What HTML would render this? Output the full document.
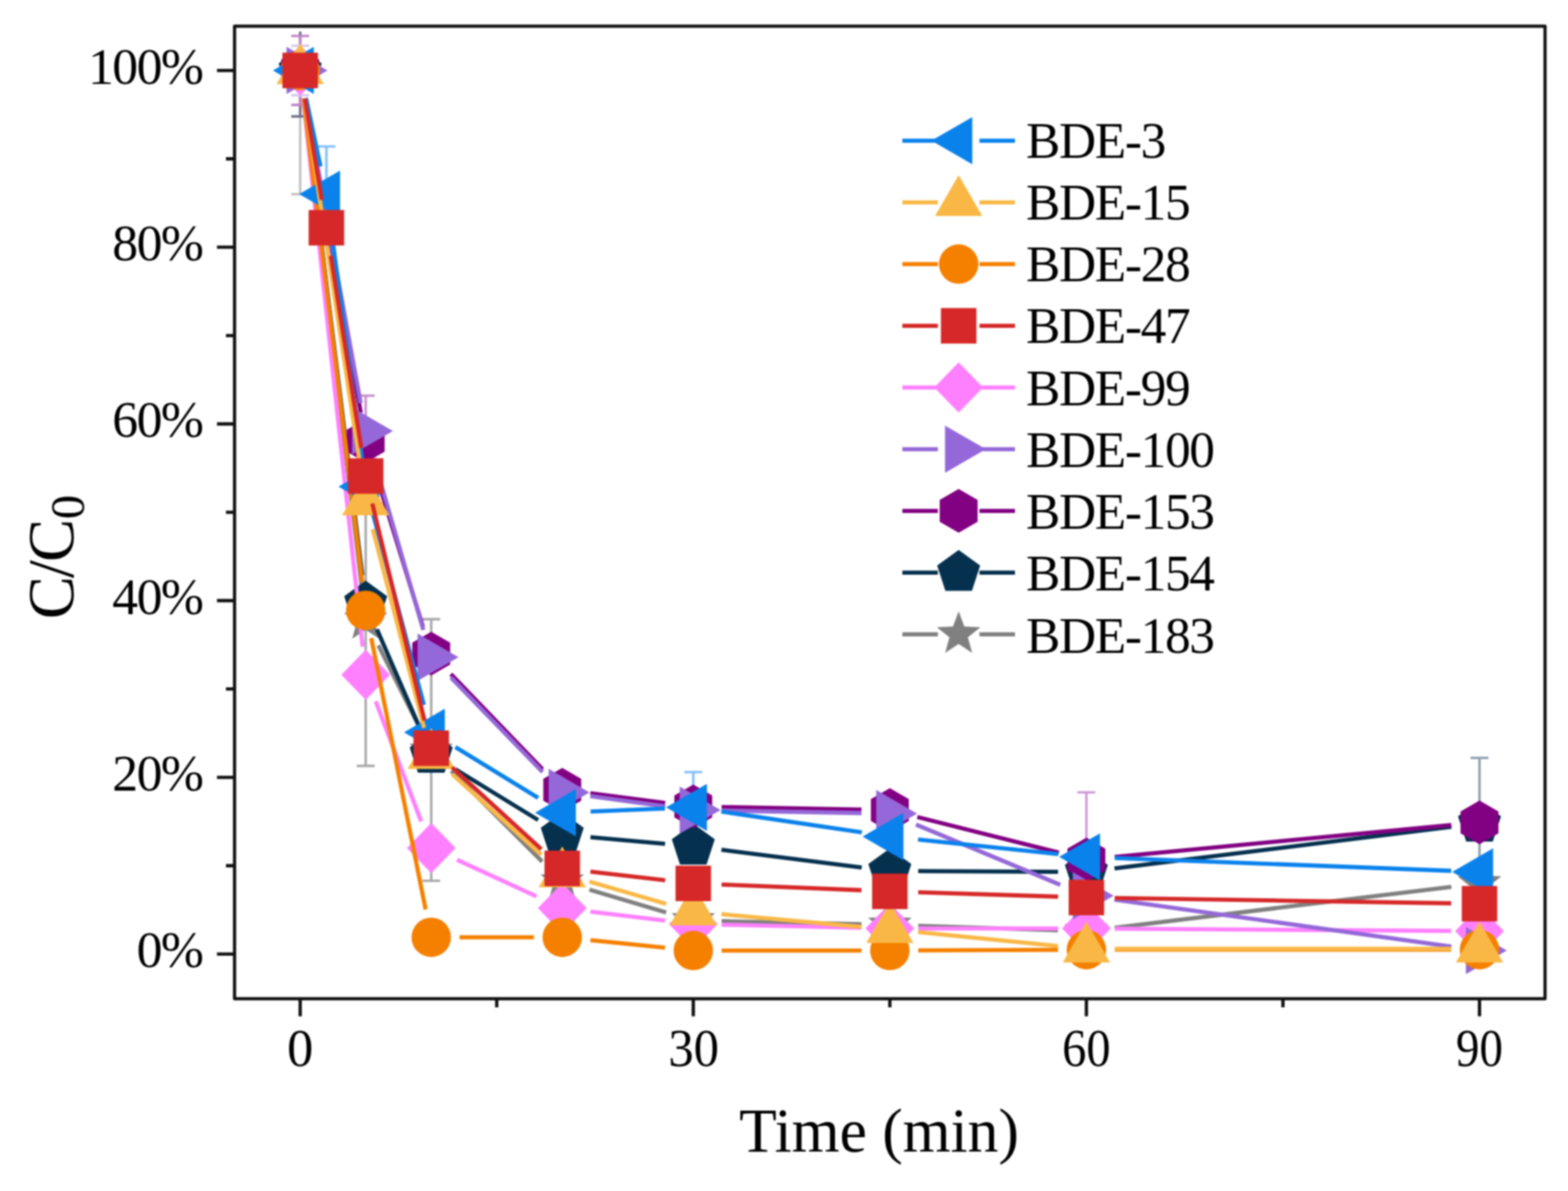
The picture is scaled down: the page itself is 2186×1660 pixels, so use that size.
<!DOCTYPE html><html><head><meta charset="utf-8"><title>C/C0 vs time</title><style>html,body{margin:0;padding:0;background:#fff;overflow:hidden;}svg{display:block;}text{font-family:"Liberation Serif","Times New Roman",serif;fill:#000;}</style></head><body>
<svg width="2186" height="1660" viewBox="0 0 2186 1660">
<rect width="2186" height="1660" fill="#fff"/>
<defs><filter id="bl" x="0" y="0" width="2186" height="1660" filterUnits="userSpaceOnUse" color-interpolation-filters="sRGB"><feGaussianBlur stdDeviation="0.85"/></filter><clipPath id="pc"><rect x="327" y="36.4" width="1827" height="1355.6"/></clipPath></defs>
<g filter="url(#bl)">
<rect width="2186" height="1660" fill="#fff"/>
<g clip-path="url(#pc)">
<path d="M418.5 44.01V270.62M406 270.62H431" stroke="#c0c0c0" stroke-width="3.4" fill="none"/>
<path d="M418.5 44.01V162.24M406 162.24H431" stroke="#6a7088" stroke-width="3.4" fill="none"/>
<path d="M418.5 50.17V146.23M406 50.17H431M406 146.23H431" stroke="#c080c8" stroke-width="3.4" fill="none"/>
<path d="M418.5 63.72V132.68M406 63.72H431M406 132.68H431" stroke="#d6cbf0" stroke-width="3.4" fill="none"/>
<path d="M455.04 204.12V337.13M442.54 204.12H467.54M442.54 337.13H467.54" stroke="#80c0ff" stroke-width="3.4" fill="none"/>
<path d="M509.84 551.43V677.05M497.34 551.43H522.34M497.34 677.05H522.34" stroke="#c890cc" stroke-width="3.4" fill="none"/>
<path d="M509.84 661.04V1067.47M497.34 661.04H522.34M497.34 1067.47H522.34" stroke="#a8a8a8" stroke-width="3.4" fill="none"/>
<path d="M601.18 863.02V1227.58M588.68 863.02H613.68M588.68 1227.58H613.68" stroke="#a8a8a8" stroke-width="3.4" fill="none"/>
<path d="M966.54 1076.09V1174.62M954.04 1076.09H979.04M954.04 1174.62H979.04" stroke="#80c0ff" stroke-width="3.4" fill="none"/>
<path d="M1514.58 1104.42V1291.62M1502.08 1104.42H1527.08M1502.08 1291.62H1527.08" stroke="#cc99d6" stroke-width="3.4" fill="none"/>
<path d="M2062.62 1056.38V1238.66M2050.12 1056.38H2075.12M2050.12 1238.66H2075.12" stroke="#8c9fb0" stroke-width="3.4" fill="none"/>
<path d="M423.18 137.42L505.16 825.03M527.54 899.57L583.48 1011.22M629.14 1074.43L755.9 1200.91M821.73 1240.04L928.67 1271.77M1006.03 1283.89L1201.07 1288.27M1280.04 1290.4L1475.1 1296.54M1553.79 1293.02L2023.41 1236.03" stroke="#808080" stroke-width="5.8" fill="none"/>
<polygon points="418.5,66.2 426.44,87.28 448.93,88.31 431.34,102.37 437.31,124.09 418.5,111.7 399.69,124.09 405.66,102.37 388.07,88.31 410.56,87.28" fill="#808080"/>
<polygon points="509.84,832.26 517.78,853.33 540.27,854.37 522.68,868.43 528.65,890.14 509.84,877.76 491.03,890.14 497,868.43 479.41,854.37 501.9,853.33" fill="#808080"/>
<polygon points="601.18,1014.53 609.12,1035.61 631.61,1036.64 614.02,1050.7 619.99,1072.42 601.18,1060.03 582.37,1072.42 588.34,1050.7 570.75,1036.64 593.24,1035.61" fill="#808080"/>
<polygon points="783.86,1196.81 791.8,1217.89 814.29,1218.92 796.7,1232.98 802.67,1254.7 783.86,1242.31 765.05,1254.7 771.02,1232.98 753.43,1218.92 775.92,1217.89" fill="#808080"/>
<polygon points="966.54,1251 974.48,1272.08 996.97,1273.11 979.38,1287.17 985.35,1308.89 966.54,1296.5 947.73,1308.89 953.7,1287.17 936.11,1273.11 958.6,1272.08" fill="#808080"/>
<polygon points="1240.56,1257.16 1248.5,1278.24 1270.99,1279.27 1253.4,1293.33 1259.37,1315.05 1240.56,1302.66 1221.75,1315.05 1227.72,1293.33 1210.13,1279.27 1232.62,1278.24" fill="#808080"/>
<polygon points="1514.58,1265.78 1522.52,1286.86 1545.01,1287.89 1527.42,1301.95 1533.39,1323.67 1514.58,1311.28 1495.77,1323.67 1501.74,1301.95 1484.15,1287.89 1506.64,1286.86" fill="#808080"/>
<polygon points="2062.62,1199.27 2070.56,1220.35 2093.05,1221.38 2075.46,1235.44 2081.43,1257.16 2062.62,1244.77 2043.81,1257.16 2049.78,1235.44 2032.19,1221.38 2054.68,1220.35" fill="#808080"/>
<path d="M423.32 137.4L505.02 801.65M525.56 877.09L585.46 1015.22M634.85 1072.11L750.19 1142.88M823.21 1166.98L927.19 1176.1M1005.73 1184.48L1201.37 1209.1M1280.06 1214.21L1475.08 1215.08M1553.78 1210.42L2023.42 1152.37" stroke="#05304e" stroke-width="5.8" fill="none"/>
<polygon points="418.5,66.7 448.46,88.47 437.02,123.68 399.98,123.68 388.54,88.47" fill="#05304e"/>
<polygon points="509.84,809.35 539.8,831.12 528.36,866.34 491.32,866.34 479.88,831.12" fill="#05304e"/>
<polygon points="601.18,1019.96 631.14,1041.72 619.7,1076.94 582.66,1076.94 571.22,1041.72" fill="#05304e"/>
<polygon points="783.86,1132.03 813.82,1153.8 802.38,1189.02 765.34,1189.02 753.9,1153.8" fill="#05304e"/>
<polygon points="966.54,1148.04 996.5,1169.81 985.06,1205.03 948.02,1205.03 936.58,1169.81" fill="#05304e"/>
<polygon points="1240.56,1182.53 1270.52,1204.3 1259.08,1239.51 1222.04,1239.51 1210.6,1204.3" fill="#05304e"/>
<polygon points="1514.58,1183.76 1544.54,1205.53 1533.1,1240.75 1496.06,1240.75 1484.62,1205.53" fill="#05304e"/>
<polygon points="2062.62,1116.02 2092.58,1137.79 2081.14,1173.01 2044.1,1173.01 2032.66,1137.79" fill="#05304e"/>
<path d="M425.38 137.1L502.96 575.34M521.46 651.99L589.56 873.3M628.58 939.51L756.46 1072.27M823.04 1105.74L927.36 1119.1M1006.03 1124.83L1201.07 1128.34M1278.87 1138.69L1476.27 1188.38M1553.91 1194.31L2023.29 1150" stroke="#820082" stroke-width="5.8" fill="none"/>
<polygon points="418.5,67.7 444.91,82.95 444.91,113.45 418.5,128.7 392.09,113.45 392.09,82.95" fill="#820082"/>
<polygon points="509.84,583.74 536.25,598.99 536.25,629.49 509.84,644.74 483.43,629.49 483.43,598.99" fill="#820082"/>
<polygon points="601.18,880.56 627.59,895.81 627.59,926.31 601.18,941.56 574.77,926.31 574.77,895.81" fill="#820082"/>
<polygon points="783.86,1070.22 810.27,1085.47 810.27,1115.97 783.86,1131.22 757.45,1115.97 757.45,1085.47" fill="#820082"/>
<polygon points="966.54,1093.62 992.95,1108.87 992.95,1139.37 966.54,1154.62 940.13,1139.37 940.13,1108.87" fill="#820082"/>
<polygon points="1240.56,1098.55 1266.97,1113.8 1266.97,1144.3 1240.56,1159.55 1214.15,1144.3 1214.15,1113.8" fill="#820082"/>
<polygon points="1514.58,1167.52 1540.99,1182.77 1540.99,1213.27 1514.58,1228.52 1488.17,1213.27 1488.17,1182.77" fill="#820082"/>
<polygon points="2062.62,1115.79 2089.03,1131.04 2089.03,1161.54 2062.62,1176.79 2036.21,1161.54 2036.21,1131.04" fill="#820082"/>
<path d="M422.76 137.47L505.58 901.34M523.82 977.56L587.2 1145.06M637.09 1198.47L747.95 1249.3M823.07 1270.52L927.33 1283.17M1006.03 1288.81L1201.07 1293.2M1280.06 1294.08L1475.08 1294.08M1554.08 1294.35L2023.12 1297.51" stroke="#ff80ff" stroke-width="5.8" fill="none"/>
<polygon points="418.5,63.2 452.5,98.2 418.5,133.2 384.5,98.2" fill="#ff80ff"/>
<polygon points="509.84,905.61 543.84,940.61 509.84,975.61 475.84,940.61" fill="#ff80ff"/>
<polygon points="601.18,1147.01 635.18,1182.01 601.18,1217.01 567.18,1182.01" fill="#ff80ff"/>
<polygon points="783.86,1230.76 817.86,1265.76 783.86,1300.76 749.86,1265.76" fill="#ff80ff"/>
<polygon points="966.54,1252.93 1000.54,1287.93 966.54,1322.93 932.54,1287.93" fill="#ff80ff"/>
<polygon points="1240.56,1259.08 1274.56,1294.08 1240.56,1329.08 1206.56,1294.08" fill="#ff80ff"/>
<polygon points="1514.58,1259.08 1548.58,1294.08 1514.58,1329.08 1480.58,1294.08" fill="#ff80ff"/>
<polygon points="2062.62,1262.78 2096.62,1297.78 2062.62,1332.78 2028.62,1297.78" fill="#ff80ff"/>
<path d="M425.56 137.06L502.78 561.83M520.83 638.63L590.19 878.04M628.67 944.34L756.37 1076.06M823.01 1109.7L927.39 1123.77M1006.03 1129.76L1201.07 1133.27M1277 1149.21L1478.14 1233.28M1553.7 1253.97L2023.5 1319.42" stroke="#9468d8" stroke-width="5.8" fill="none"/>
<polygon points="456.5,98.2 399.5,131.11 399.5,65.29" fill="#9468d8"/>
<polygon points="547.84,600.69 490.84,633.6 490.84,567.78" fill="#9468d8"/>
<polygon points="639.18,915.98 582.18,948.89 582.18,883.07" fill="#9468d8"/>
<polygon points="821.86,1104.42 764.86,1137.33 764.86,1071.51" fill="#9468d8"/>
<polygon points="1004.54,1129.05 947.54,1161.96 947.54,1096.14" fill="#9468d8"/>
<polygon points="1278.56,1133.98 1221.56,1166.88 1221.56,1101.07" fill="#9468d8"/>
<polygon points="1552.58,1248.51 1495.58,1281.42 1495.58,1215.61" fill="#9468d8"/>
<polygon points="2100.62,1324.87 2043.62,1357.78 2043.62,1291.96" fill="#9468d8"/>
<path d="M423.26 137.41L505.08 811.5M517.6 889.44L593.42 1267.67M640.68 1306.4L744.36 1306.4M823.16 1310.37L927.24 1320.9M1006.04 1324.87L1201.06 1324.87M1280.06 1324.7L1475.08 1323.82M1554.08 1323.64L2023.12 1323.64" stroke="#f58000" stroke-width="5.8" fill="none"/>
<circle cx="418.5" cy="98.2" r="27.5" fill="#f58000"/>
<circle cx="509.84" cy="850.71" r="27.5" fill="#f58000"/>
<circle cx="601.18" cy="1306.4" r="27.5" fill="#f58000"/>
<circle cx="783.86" cy="1306.4" r="27.5" fill="#f58000"/>
<circle cx="966.54" cy="1324.87" r="27.5" fill="#f58000"/>
<circle cx="1240.56" cy="1324.87" r="27.5" fill="#f58000"/>
<circle cx="1514.58" cy="1323.64" r="27.5" fill="#f58000"/>
<circle cx="2062.62" cy="1323.64" r="27.5" fill="#f58000"/>
<path d="M426.69 136.84L446.85 231.98M460.3 309.77L504.58 639.14M520.02 716.45L591 982.5M634.85 1041.32L750.19 1112.09M823.33 1131.15L927.07 1126.95M1005.61 1131.15L1201.49 1160.2M1279.85 1170.06L1475.29 1190.26M1554.05 1195.83L2023.15 1213.75" stroke="#0a82ec" stroke-width="5.8" fill="none"/>
<polygon points="380.5,98.2 437.5,65.29 437.5,131.11" fill="#0a82ec"/>
<polygon points="417.04,270.62 474.04,237.72 474.04,303.53" fill="#0a82ec"/>
<polygon points="471.84,678.28 528.84,645.37 528.84,711.19" fill="#0a82ec"/>
<polygon points="563.18,1020.67 620.18,987.76 620.18,1053.58" fill="#0a82ec"/>
<polygon points="745.86,1132.74 802.86,1099.84 802.86,1165.65" fill="#0a82ec"/>
<polygon points="928.54,1125.35 985.54,1092.45 985.54,1158.26" fill="#0a82ec"/>
<polygon points="1202.56,1166 1259.56,1133.09 1259.56,1198.91" fill="#0a82ec"/>
<polygon points="1476.58,1194.32 1533.58,1161.42 1533.58,1227.23" fill="#0a82ec"/>
<polygon points="2024.62,1215.26 2081.62,1182.35 2081.62,1248.17" fill="#0a82ec"/>
<path d="M424.43 137.25L503.91 660.17M519.72 737.46L591.3 1014.45M630.49 1079.17L754.55 1191.25M821.8 1228.72L928.6 1259.69M1005.88 1274.22L1201.22 1291.78M1279.87 1299.2L1475.27 1318.52M1554.08 1322.41L2023.12 1322.41" stroke="#f9b846" stroke-width="5.8" fill="none"/>
<polygon points="418.5,60.2 451.41,117.2 385.59,117.2" fill="#f9b846"/>
<polygon points="509.84,661.22 542.75,718.22 476.93,718.22" fill="#f9b846"/>
<polygon points="601.18,1014.69 634.09,1071.69 568.27,1071.69" fill="#f9b846"/>
<polygon points="783.86,1179.72 816.77,1236.72 750.95,1236.72" fill="#f9b846"/>
<polygon points="966.54,1232.68 999.45,1289.68 933.63,1289.68" fill="#f9b846"/>
<polygon points="1240.56,1257.32 1273.47,1314.32 1207.65,1314.32" fill="#f9b846"/>
<polygon points="1514.58,1284.41 1547.49,1341.41 1481.67,1341.41" fill="#f9b846"/>
<polygon points="2062.62,1284.41 2095.53,1341.41 2029.71,1341.41" fill="#f9b846"/>
<path d="M424.99 137.16L448.54 278.46M461.21 356.44L503.66 624.49M519.09 701.91L591.93 1004.43M630.29 1069.53L754.75 1183.64M823.1 1214.83L927.3 1226.77M1006.01 1232.87L1201.09 1240.76M1280.04 1243.6L1475.1 1249.74M1554.08 1251.6L2023.12 1258.98" stroke="#d62828" stroke-width="5.8" fill="none"/>
<rect x="393.75" y="73.45" width="49.5" height="49.5" fill="#d62828"/>
<rect x="430.29" y="292.67" width="49.5" height="49.5" fill="#d62828"/>
<rect x="485.09" y="638.75" width="49.5" height="49.5" fill="#d62828"/>
<rect x="576.43" y="1018.09" width="49.5" height="49.5" fill="#d62828"/>
<rect x="759.11" y="1185.58" width="49.5" height="49.5" fill="#d62828"/>
<rect x="941.79" y="1206.52" width="49.5" height="49.5" fill="#d62828"/>
<rect x="1215.81" y="1217.61" width="49.5" height="49.5" fill="#d62828"/>
<rect x="1489.83" y="1226.23" width="49.5" height="49.5" fill="#d62828"/>
<rect x="2037.87" y="1234.85" width="49.5" height="49.5" fill="#d62828"/>
</g>
<rect x="327" y="36.4" width="1827" height="1355.6" fill="none" stroke="#111" stroke-width="4.5" stroke-linejoin="round"/>
<path d="M327 1329.8H302.5M327 1083.48H302.5M327 837.16H302.5M327 590.84H302.5M327 344.52H302.5M327 98.2H302.5M327 1206.64H315M327 960.32H315M327 714H315M327 467.68H315M327 221.36H315M418.5 1392V1416.5M966.54 1392V1416.5M1514.58 1392V1416.5M2062.62 1392V1416.5M692.52 1392V1404M1240.56 1392V1404M1788.6 1392V1404" stroke="#111" stroke-width="4.6" fill="none"/>
<text transform="translate(190.4 1348.2)" font-size="72" letter-spacing="-2.2">0%</text>
<text transform="translate(156.6 1101.88)" font-size="72" letter-spacing="-2.2">20%</text>
<text transform="translate(156.6 855.56)" font-size="72" letter-spacing="-2.2">40%</text>
<text transform="translate(156.6 609.24)" font-size="72" letter-spacing="-2.2">60%</text>
<text transform="translate(156.6 362.92)" font-size="72" letter-spacing="-2.2">80%</text>
<text transform="translate(122.8 116.6)" font-size="72" letter-spacing="-2.2">100%</text>
<text transform="translate(418.4 1485.5)" font-size="73" text-anchor="middle">0</text>
<text transform="translate(967.1 1485.5) scale(0.9700 1)" font-size="73" text-anchor="middle">30</text>
<text transform="translate(1514.6 1485.5) scale(0.9260 1)" font-size="73" text-anchor="middle">60</text>
<text transform="translate(2062.4 1485.5) scale(0.8980 1)" font-size="73" text-anchor="middle">90</text>
<text transform="translate(1030.5 1604.5) scale(0.9940 1)" font-size="86.3">Time (min)</text>
<text transform="translate(102.2 863.1) rotate(-90)" font-size="90" letter-spacing="-2.6">C/C<tspan font-size="68" dx="2.1" dy="14.9">0</tspan></text>
<path d="M1258 196.1H1307.5M1365.5 196.1H1415" stroke="#0a82ec" stroke-width="5.8" fill="none"/>
<polygon points="1298.5,196.1 1355.5,163.19 1355.5,229.01" fill="#0a82ec"/>
<text transform="translate(1430.6 219.5)" font-size="71.5" letter-spacing="-1.8">BDE-3</text>
<path d="M1258 282.1H1307.5M1365.5 282.1H1415" stroke="#f9b846" stroke-width="5.8" fill="none"/>
<polygon points="1336.5,244.1 1369.41,301.1 1303.59,301.1" fill="#f9b846"/>
<text transform="translate(1430.6 305.75)" font-size="71.5" letter-spacing="-1.8">BDE-15</text>
<path d="M1258 368.1H1307.5M1365.5 368.1H1415" stroke="#f58000" stroke-width="5.8" fill="none"/>
<circle cx="1336.5" cy="368.1" r="27.5" fill="#f58000"/>
<text transform="translate(1430.6 392)" font-size="71.5" letter-spacing="-1.8">BDE-28</text>
<path d="M1258 454.1H1307.5M1365.5 454.1H1415" stroke="#d62828" stroke-width="5.8" fill="none"/>
<rect x="1311.75" y="429.35" width="49.5" height="49.5" fill="#d62828"/>
<text transform="translate(1430.6 478.25)" font-size="71.5" letter-spacing="-1.8">BDE-47</text>
<path d="M1258 540.1H1307.5M1365.5 540.1H1415" stroke="#ff80ff" stroke-width="5.8" fill="none"/>
<polygon points="1336.5,505.1 1370.5,540.1 1336.5,575.1 1302.5,540.1" fill="#ff80ff"/>
<text transform="translate(1430.6 564.5)" font-size="71.5" letter-spacing="-1.8">BDE-99</text>
<path d="M1258 626.1H1307.5M1365.5 626.1H1415" stroke="#9468d8" stroke-width="5.8" fill="none"/>
<polygon points="1374.5,626.1 1317.5,659.01 1317.5,593.19" fill="#9468d8"/>
<text transform="translate(1430.6 650.75)" font-size="71.5" letter-spacing="-1.8">BDE-100</text>
<path d="M1258 712.1H1307.5M1365.5 712.1H1415" stroke="#820082" stroke-width="5.8" fill="none"/>
<polygon points="1336.5,681.6 1362.91,696.85 1362.91,727.35 1336.5,742.6 1310.09,727.35 1310.09,696.85" fill="#820082"/>
<text transform="translate(1430.6 737)" font-size="71.5" letter-spacing="-1.8">BDE-153</text>
<path d="M1258 798.1H1307.5M1365.5 798.1H1415" stroke="#05304e" stroke-width="5.8" fill="none"/>
<polygon points="1336.5,766.6 1366.46,788.37 1355.02,823.58 1317.98,823.58 1306.54,788.37" fill="#05304e"/>
<text transform="translate(1430.6 823.25)" font-size="71.5" letter-spacing="-1.8">BDE-154</text>
<path d="M1258 884.1H1307.5M1365.5 884.1H1415" stroke="#808080" stroke-width="5.8" fill="none"/>
<polygon points="1336.5,852.1 1344.44,873.18 1366.93,874.21 1349.34,888.27 1355.31,909.99 1336.5,897.6 1317.69,909.99 1323.66,888.27 1306.07,874.21 1328.56,873.18" fill="#808080"/>
<text transform="translate(1430.6 909.5)" font-size="71.5" letter-spacing="-1.8">BDE-183</text>
</g></svg></body></html>
